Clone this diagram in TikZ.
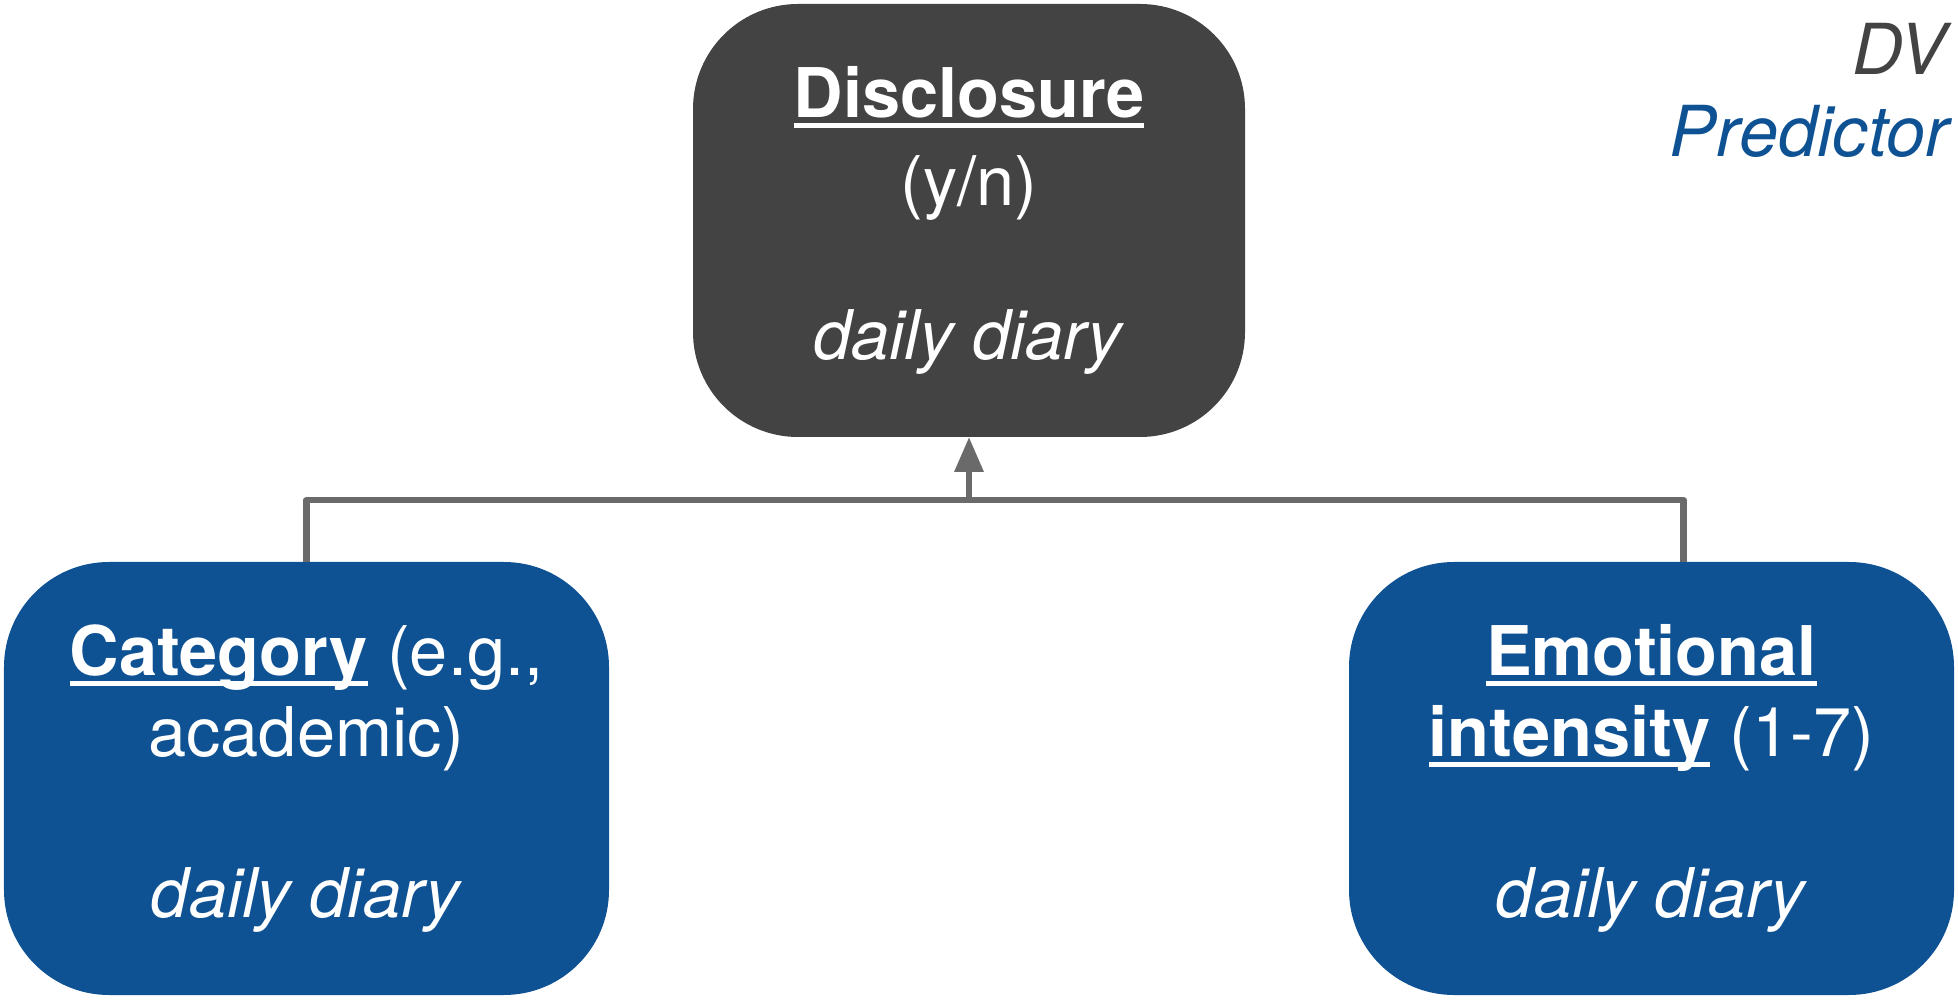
\documentclass[tikz,border=0pt]{standalone}
\usepackage{fontspec}
\setmainfont{TeX Gyre Heros}
\usepackage{tikz}
\usetikzlibrary{shapes,arrows.meta,calc,positioning}
\definecolor{dvgray}{HTML}{434343}
\definecolor{predblue}{HTML}{0F5294}
\definecolor{linkgray}{HTML}{6A6A6A}
% bold word with a rule that runs through the descenders
\newcommand{\ulbold}[1]{\leavevmode\setbox0\hbox{\bfseries #1}%
  \rlap{\rule[-0.16em]{\wd0}{0.07em}}\box0\relax}
\tikzset{
  varbox/.style={rounded corners=1.05cm, text=white, align=center,
    inner sep=0pt, outer sep=0pt,
    font=\fontsize{19.5pt}{23pt}\selectfont},
  link/.style={draw=linkgray, line width=0.065cm, line join=round}
}

\begin{document}
\begin{tikzpicture}

\useasboundingbox (0,0) rectangle (19.58,9.99);

\def\boxh{4.33}
\def\midy{4.99}

% outcome
\node[varbox, fill=dvgray, minimum width=5.52cm, minimum height=\boxh cm]
  (disc) at (9.69,7.785)
  {\ulbold{Disclosure}\\[2pt](y/n)\\[21pt]\textit{daily diary}};

% predictors
\node[varbox, fill=predblue, minimum width=6.05cm, minimum height=\boxh cm]
  (cat) at (3.065,2.205)
  {\ulbold{Category} (e.g.,\\academic)\\[23pt]\textit{daily diary}};
\node[varbox, fill=predblue, minimum width=6.05cm, minimum height=\boxh cm]
  (emo) at (16.515,2.205)
  {\ulbold{Emotional}\\\ulbold{intensity} (1-7)\\[23pt]\textit{daily diary}};

% legend
\node[anchor=base east, text=dvgray, font=\fontsize{20pt}{24pt}\selectfont\itshape]
  (dvkey) at (19.59,9.24) {DV};
\node[anchor=base east, text=predblue, font=\fontsize{20pt}{24pt}\selectfont\itshape]
  (predkey) at (19.61,8.42) {Predictor};

% connector
\coordinate (jct) at (disc.south |- 0,\midy);
\coordinate (emotop) at ([xshift=0.32cm]emo.north);
\draw[link] (cat.north) |- (jct) -| (emotop);
\draw[link, -{Triangle[width=0.28cm,length=0.35cm]}] (jct) -- (disc.south);

\end{tikzpicture}
\end{document}
